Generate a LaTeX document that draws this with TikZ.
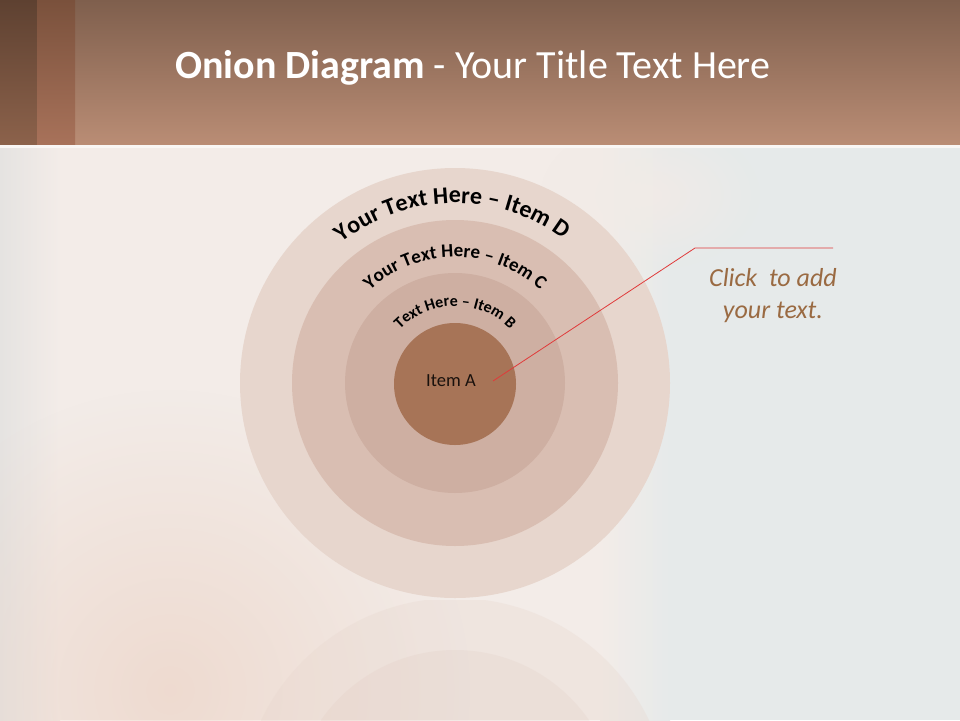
\documentclass[tikz,border=0pt]{standalone}
\usepackage{fontspec}
\setmainfont{Carlito}
\usetikzlibrary{decorations.text,fadings}
\tikzfading[name=radialout, inner color=transparent!0, outer color=transparent!100]
\definecolor{bgright}{HTML}{E6EAEA}
\definecolor{bgleft}{HTML}{F3ECE8}
\definecolor{bgedge}{HTML}{E5E3E1}
\definecolor{peach}{HTML}{EBCFC0}
\definecolor{feather}{HTML}{F1EBE7}
\definecolor{hdrtop}{HTML}{7F5F4D}
\definecolor{hdrbot}{HTML}{BA8D75}
\definecolor{strAtop}{HTML}{5E4131}
\definecolor{strAbot}{HTML}{8C624B}
\definecolor{strBtop}{HTML}{7A513C}
\definecolor{strBbot}{HTML}{A8725A}
\definecolor{ringD}{HTML}{E7D6CD}
\definecolor{ringC}{HTML}{D9BEB2}
\definecolor{ringB}{HTML}{CEAFA2}
\definecolor{ringA}{HTML}{A77457}
\definecolor{clicktxt}{HTML}{9A6A42}
\definecolor{leader}{HTML}{E03A3A}
\tikzset{
  arctext/.style={decorate, decoration={text along path, text align=center, text format delimiters={|}{|}}},
  titletxt/.style={text=white, anchor=west, inner sep=0pt},
}
\begin{document}
\begin{tikzpicture}[x=1pt,y=-1pt]
\useasboundingbox (0,0) rectangle (960,720);
% background
\fill[bgright] (0,0) rectangle (960,720);
\fill[bgleft] (0,145) rectangle (600,720);
\shade[left color=bgleft, right color=bgright] (600,145) rectangle (670,720);
\shade[left color=bgedge, right color=bgleft] (0,145) rectangle (60,720);
\fill[feather, path fading=radialout] (650,195) ellipse (110 and 75);
\fill[peach, path fading=radialout, opacity=0.6] (170,690) circle (300);
% header
\shade[top color=hdrtop, bottom color=hdrbot] (0,0) rectangle (960,145);
\shade[top color=strAtop, bottom color=strAbot] (0,0) rectangle (37,145);
\shade[top color=strBtop, bottom color=strBbot] (37,0) rectangle (75,145);
\fill[white!92!hdrbot] (0,145) rectangle (960,148);
\node[titletxt, font=\fontsize{40}{46}\selectfont] (title) at (175,68) {\textbf{Onion Diagram} - Your Title Text Here};
% reflection
\begin{scope}
\clip (0,600) rectangle (960,720);
\fill[ringD, opacity=0.3] (455,813) circle (215);
\fill[ringC, opacity=0.15] (455,813) circle (163);
\end{scope}
% rings
\fill[ringD] (455,383) circle (215);
\fill[ringC] (455,383) circle (163);
\fill[ringB] (455,383) circle (110);
\node[circle, fill=ringA, minimum size=122pt, inner sep=0pt] (itemA) at (455,384) {};
\node[font=\fontsize{18.5}{22}\selectfont, text=black!85!ringA] (itemAlabel) at (451,381) {Item A};
% arc texts
\path[arctext, decoration={text={|\fontsize{24}{29}\selectfont\bfseries|Your Text Here – Item D}}]
  (455,383) ++(-171:180) arc[start angle=-171, end angle=-11, radius=180];
\path[arctext, decoration={text={|\fontsize{19}{23}\selectfont\bfseries|Your Text Here – Item C}}]
  (455,383) ++(-175:126) arc[start angle=-175, end angle=-5, radius=126];
\path[arctext, decoration={text={|\fontsize{16}{19}\selectfont\bfseries|Text Here – Item B}}]
  (455,383) ++(-178:77) arc[start angle=-178, end angle=-2, radius=77];
% leader
\coordinate (tip) at (493,381);
\coordinate (elbow) at (695,248);
\coordinate (lend) at (833,248);
\draw[leader, line width=0.8pt] (tip) -- (elbow) -- (lend);
\node[text=clicktxt, font=\fontsize{26}{32}\selectfont\itshape, align=center] (click) at (773,296) {Click\ \ to add\\your text.};
\end{tikzpicture}
\end{document}
